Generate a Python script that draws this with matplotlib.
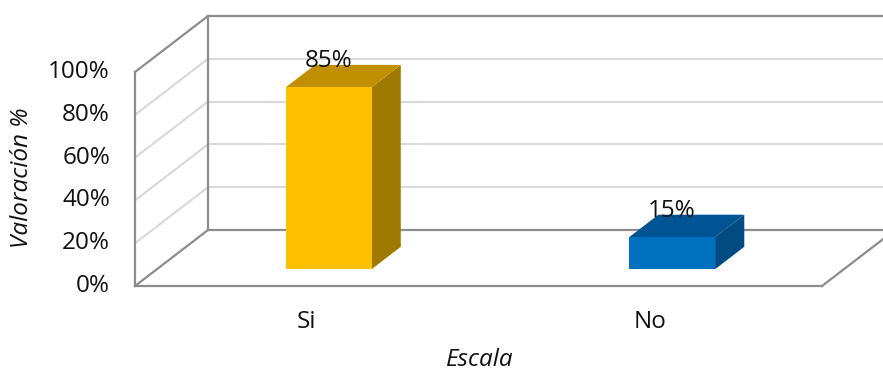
import matplotlib.pyplot as plt
from matplotlib.patches import Polygon

# data
categories = ['Si', 'No']
values = [85, 15]
ticks = [0, 20, 40, 60, 80, 100]
tick_labels = ['0%', '20%', '40%', '60%', '80%', '100%']

# styles
front_colors = ['#FFC000', '#0070C0']
top_colors = ['#C09000', '#005493']
side_colors = ['#A07A00', '#004B82']
edge_gray = '#8C8C8C'
grid_gray = '#D9D9D9'
txt = '#111111'
fs = 17.5

plt.rcParams['font.family'] = ['Open Sans', 'DejaVu Sans']

# 3d-ish projection: depth shifts x and y
px_x = 343.5          # pixels per category unit
px_y = 2.14           # pixels per percent
ddx = 73 / px_x       # full depth shift, x units
ddy = 56 / px_y       # full depth shift, percent units
n = len(categories)

fig = plt.figure(figsize=(8.83, 3.74), dpi=100)
ax = fig.add_axes([0, 0, 1, 1])
ax.set_xlim(-135 / px_x, (883 - 135) / px_x)
ax.set_ylim(-(374 - 286) / px_y, 286 / px_y)
ax.axis('off')

def proj(x, y, d):
    return x + d * ddx, y + d * ddy

# gridlines on side wall and back wall
for t in ticks[1:-1]:
    ax.plot([0, ddx], [t, t + ddy], color=grid_gray, lw=1.5, zorder=1)
    ax.plot([ddx, n + 3 * ddx], [t + ddy, t + ddy], color=grid_gray, lw=1.5, zorder=1)

# wall / floor edges
top = ticks[-1]
ax.plot([0, 0], [0, top], color=edge_gray, lw=1.6, zorder=2)
ax.plot([0, ddx], [top, top + ddy], color=edge_gray, lw=1.6, zorder=2)
ax.plot([ddx, ddx], [ddy, top + ddy], color=edge_gray, lw=1.6, zorder=2)
ax.plot([ddx, n + 3 * ddx], [top + ddy, top + ddy], color=edge_gray, lw=1.6, zorder=2)
ax.plot([ddx, n + 3 * ddx], [ddy, ddy], color=edge_gray, lw=1.6, zorder=2)
ax.plot([0, ddx], [0, ddy], color=edge_gray, lw=1.6, zorder=2)
ax.plot([0, n], [0, 0], color=edge_gray, lw=1.6, zorder=2)
ax.plot([n, n + ddx], [0, ddy], color=edge_gray, lw=1.6, zorder=2)

# bars
w = 0.25
d0, d1 = 0.30, 0.70
for i, (cat, v) in enumerate(zip(categories, values)):
    c = i + 0.5
    xl, xr = c - w / 2, c + w / 2
    front = [proj(xl, 0, d0), proj(xr, 0, d0), proj(xr, v, d0), proj(xl, v, d0)]
    topf = [proj(xl, v, d0), proj(xr, v, d0), proj(xr, v, d1), proj(xl, v, d1)]
    side = [proj(xr, 0, d0), proj(xr, 0, d1), proj(xr, v, d1), proj(xr, v, d0)]
    ax.add_patch(Polygon(side, closed=True, fc=side_colors[i], ec='none', zorder=3))
    ax.add_patch(Polygon(topf, closed=True, fc=top_colors[i], ec='none', zorder=3))
    ax.add_patch(Polygon(front, closed=True, fc=front_colors[i], ec='none', zorder=4))
    lx, ly = proj(c, v, d0)
    ax.text(lx, ly + 12.3, f'{v}%', ha='center', va='center', fontsize=fs,
            color=txt, zorder=5)
    ax.text(c, -17.0, cat, ha='center', va='center', fontsize=fs, color=txt)

# y tick labels
for t, lab in zip(ticks, tick_labels):
    ax.text(-25 / px_x, t, lab, ha='right', va='center', fontsize=fs, color=txt)

# axis titles
ax.text((480 - 135) / px_x, -(360 - 286) / px_y, 'Escala', ha='center', va='center',
        fontsize=fs, style='italic', color=txt)
ax.text(-(135 - 22) / px_x, (286 - 178) / px_y, 'Valoración %', ha='center', va='center',
        fontsize=fs, style='italic', rotation=90, color=txt)

fig.savefig('out.png', dpi=100)
